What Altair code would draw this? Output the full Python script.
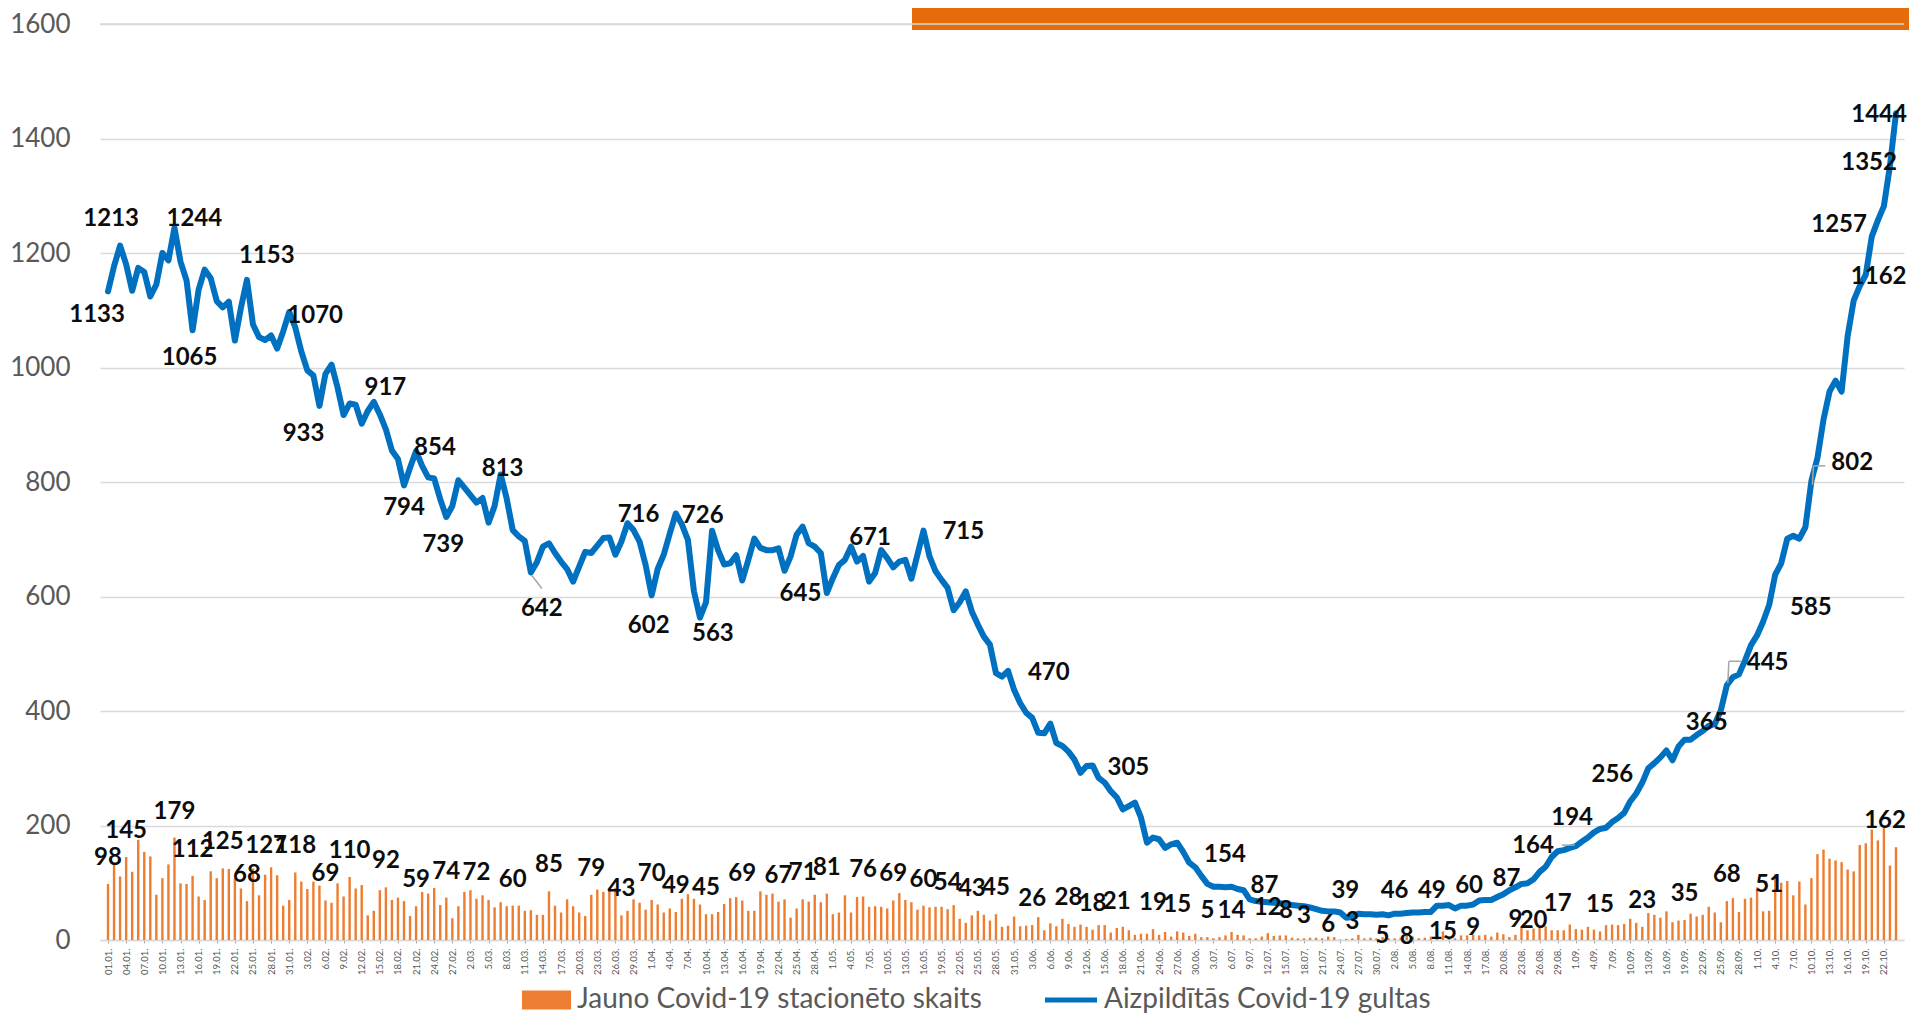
import datetime as dt
import altair as alt
import pandas as pd

# ---------------- data ----------------
new_cases = [
    98, 131, 111, 145, 119, 175, 154, 146, 79, 108, 132, 179, 99, 98, 112, 76, 70, 120, 108, 125,
    124, 108, 90, 68, 125, 78, 114, 127, 113, 60, 70, 118, 102, 89, 102, 95, 69, 65, 99, 76,
    110, 90, 96, 43, 51, 87, 92, 70, 74, 68, 42, 59, 84, 81, 91, 61, 74, 38, 59, 84,
    87, 72, 78, 70, 57, 66, 59, 60, 60, 51, 52, 44, 44, 85, 60, 48, 71, 59, 48, 42,
    79, 88, 84, 91, 91, 43, 51, 71, 65, 53, 70, 62, 48, 55, 49, 72, 80, 72, 62, 45,
    45, 49, 63, 73, 75, 69, 51, 51, 85, 79, 81, 67, 71, 39, 55, 71, 67, 79, 66, 81,
    45, 48, 78, 48, 75, 76, 58, 59, 58, 55, 69, 82, 70, 66, 53, 60, 57, 58, 58, 54,
    61, 37, 30, 43, 51, 44, 34, 45, 23, 25, 41, 24, 25, 26, 40, 17, 29, 24, 37, 28,
    23, 27, 23, 18, 26, 26, 13, 21, 23, 17, 9, 11, 11, 19, 9, 14, 6, 15, 13, 7,
    11, 5, 5, 3, 5, 8, 14, 9, 8, 3, 3, 6, 12, 7, 8, 8, 4, 3, 3, 4,
    4, 3, 6, 5, 1, 2, 3, 9, 3, 4, 3, 5, 3, 3, 4, 8, 6, 3, 4, 6,
    12, 15, 4, 3, 8, 8, 9, 8, 9, 6, 13, 10, 5, 9, 23, 17, 20, 21, 24, 17,
    17, 17, 27, 19, 18, 23, 18, 15, 26, 27, 26, 28, 37, 30, 23, 47, 44, 39, 50, 31,
    34, 35, 46, 41, 44, 58, 48, 31, 68, 73, 49, 72, 74, 92, 50, 51, 115, 100, 103, 78,
    102, 62, 108, 150, 158, 142, 139, 136, 123, 120, 166, 169, 193, 174, 200, 130, 162,
]

occupied_beds = [
    1133, 1177, 1213, 1180, 1134, 1174, 1167, 1124, 1145, 1200, 1187, 1244, 1185, 1152, 1065, 1136, 1171, 1156, 1116, 1105,
    1115, 1047, 1104, 1153, 1075, 1053, 1048, 1056, 1033, 1063, 1097, 1070, 1028, 995, 986, 933, 989, 1005, 965, 917,
    937, 935, 902, 924, 940, 918, 892, 855, 840, 794, 825, 854, 828, 808, 806, 770, 739, 758, 803, 790,
    777, 764, 772, 729, 758, 813, 771, 716, 705, 697, 642, 660, 687, 693, 676, 661, 648, 626, 652, 678,
    676, 689, 702, 703, 673, 696, 728, 716, 696, 655, 602, 648, 673, 710, 745, 726, 699, 609, 563, 590,
    715, 681, 656, 658, 672, 628, 664, 701, 685, 681, 681, 684, 645, 670, 708, 722, 693, 687, 676, 606,
    632, 655, 664, 687, 661, 671, 626, 641, 681, 667, 651, 661, 664, 631, 673, 715, 670, 644, 629, 615,
    576, 590, 609, 574, 551, 530, 516, 466, 460, 470, 437, 414, 397, 388, 362, 361, 378, 344, 339, 329,
    315, 292, 304, 305, 283, 275, 260, 249, 228, 234, 240, 214, 170, 179, 176, 161, 167, 170, 154, 135,
    127, 112, 98, 93, 93, 92, 93, 89, 87, 71, 68, 67, 66, 65, 64, 63, 61, 60, 59, 57,
    54, 51, 50, 50, 48, 39, 40, 46, 45, 45, 44, 45, 43, 46, 46, 47, 48, 48, 49, 49,
    60, 60, 61, 55, 60, 60, 62, 69, 70, 70, 75, 80, 87, 92, 98, 99, 106, 119, 128, 145,
    155, 157, 161, 164, 172, 179, 188, 194, 196, 206, 213, 222, 242, 256, 275, 300, 309, 319, 331, 314,
    338, 350, 350, 358, 365, 374, 377, 401, 445, 459, 464, 488, 515, 532, 556, 585, 638, 658, 701, 706,
    701, 721, 802, 842, 909, 958, 977, 958, 1055, 1117, 1142, 1162, 1229, 1257, 1282, 1352, 1444,
]

series_names = ["Jauno Covid-19 stacionēto skaits", "Aizpildītās Covid-19 gultas"]
y_ticks = [0, 200, 400, 600, 800, 1000, 1200, 1400, 1600]

# days labelled in the picture (bars / line)
bar_label_idx = [0, 3, 11, 14, 19, 23, 27, 31, 36, 40, 46, 51, 56, 61, 67, 73, 80, 85, 90, 94,
                 99, 105, 111, 115, 119, 125, 130, 135, 139, 143, 147, 153, 159, 163, 167, 173, 177, 182, 186, 192,
                 195, 198, 202, 206, 211, 215, 221, 226, 233, 236, 240, 247, 254, 261, 268, 275, 296]
line_label_idx = [0, 2, 11, 14, 23, 31, 35, 39, 49, 51, 56, 65, 70, 87, 90, 95, 98, 112, 125, 135,
                  149, 163, 178, 188, 205, 213, 219, 225, 232, 243, 247, 253, 264, 268, 275, 282, 291, 293, 295, 296]

# ---------------- layout: pixel offsets of labels from their point ----------------
bar_dx = {27: -5, 296: -11}
bar_dy = {27: -21, 186: -21, 192: -25, 195: -24, 198: -22, 202: -12, 206: -16, 211: -1, 215: 2,
          221: 1, 226: -7, 233: -15, 236: -8}
line_dx = [-11, -9, 20, -3, 20, 20, -16, 42, 0, 19, -3, 2, 11, 5, -3, 21, 13, 16, 7, 40,
           41, 36, 42, 21, -1, 0, 1, 2, -3, -43, -28, -24, 4, 41, 42, 41, 13, -39, -21, -17]
line_dy = [24, -27, -9, 28, -24, -11, 28, -27, 23, -3, 28, -6, 37, -15, 31, -8, 16, 23, -18, 1,
           2, 3, 3, -4, -27, -23, -21, -20, -11, 0, -11, -18, -8, -22, 3, -18, 2, 5, -3, 2]

FONT = "Lato"
ORANGE = "#ED7D31"
BLUE = "#0070C0"
GRID = "#d9d9d9"
W, H = 1804, 916
PAD_TOP = 16
Y_MAX = 1600

# ---------------- tables ----------------
n = len(new_cases)
PX_PER_DAY = W / n
PX_PER_UNIT = H / Y_MAX

start = dt.date(2021, 1, 1)
dates = []
for k in range(n):
    d = start + dt.timedelta(days=k)
    dates.append(f"{d.day:02d}.{d.month:02d}." if d.month == 1 else f"{d.day}.{d.month:02d}.")

tick_idx = list(range(0, n, 3))
tick_labels = [dates[i] for i in tick_idx]
label_expr = "[" + ",".join(f"'{s}'" for s in tick_labels) + "][round(datum.value / 3)]"

df = pd.DataFrame({"idx": list(range(n)), "date": dates, "new": new_cases, "beds": occupied_beds})

bar_lab = df[df["idx"].isin(bar_label_idx)].copy()
bar_lab["lx"] = [i + bar_dx.get(i, 0) / PX_PER_DAY for i in bar_lab["idx"]]
bar_lab["ly"] = [v - bar_dy.get(i, -26) / PX_PER_UNIT for i, v in zip(bar_lab["idx"], bar_lab["new"])]

line_lab = df.set_index("idx").loc[line_label_idx].reset_index()
line_lab["lx"] = [i + d / PX_PER_DAY for i, d in zip(line_lab["idx"], line_dx)]
line_lab["ly"] = [v - d / PX_PER_UNIT for v, d in zip(line_lab["beds"], line_dy)]

x_scale = alt.Scale(domain=[-0.5, n - 0.5], nice=False, zero=False)
y_scale = alt.Scale(domain=[0, Y_MAX], nice=False)

x_axis = alt.Axis(values=tick_idx, labelExpr=label_expr, labelAngle=270, labelFontSize=9.5,
                  labelFont=FONT, labelColor="#595959", labelOverlap=False, labelFlush=False,
                  labelBound=False, labelPadding=5, tickSize=3, tickColor="#a6a6a6",
                  domainColor=GRID, domainWidth=1.3, grid=False, title=None)
y_axis = alt.Axis(values=y_ticks, format="d", labelFontSize=26, labelFont=FONT, labelColor="#595959",
                  labelPadding=30, tickSize=0, ticks=False, domain=False, grid=True,
                  gridColor=GRID, gridWidth=1.3, title=None)


def X(field):
    return alt.X(field, scale=x_scale, axis=x_axis, title=None)


def Y(field):
    return alt.Y(field, scale=y_scale, axis=y_axis, title=None)


bars = alt.Chart(df).mark_bar(color=ORANGE, size=2.4).encode(
    x=X("idx:Q"), y=Y("new:Q"),
)

line = alt.Chart(df).mark_line(color=BLUE, strokeWidth=6, strokeJoin="round", strokeCap="round").encode(
    x=X("idx:Q"), y=Y("beds:Q"),
)

text_style = dict(font=FONT, fontSize=24, fontWeight="bold", color="#0d0d0d",
                  align="center", baseline="middle")

bar_text = alt.Chart(bar_lab).mark_text(**text_style).encode(
    x=X("lx:Q"), y=Y("ly:Q"), text=alt.Text("new:Q"),
)
line_text = alt.Chart(line_lab).mark_text(**text_style).encode(
    x=X("lx:Q"), y=Y("ly:Q"), text=alt.Text("beds:Q"),
)

# grey leader lines for a few labels
leader_specs = [
    (70, dict(xOffset=1, x2Offset=11, yOffset=3, y2Offset=16)),
    (243, dict(xOffset=-14, x2Offset=-1, yOffset=-1, y2Offset=-1)),
    (268, dict(xOffset=1, x2Offset=2, yOffset=-2, y2Offset=-24)),
    (268, dict(xOffset=2, x2Offset=14, yOffset=-24, y2Offset=-24)),
    (282, dict(xOffset=1, x2Offset=2, yOffset=4, y2Offset=-15)),
    (282, dict(xOffset=2, x2Offset=14, yOffset=-15, y2Offset=-15)),
]
leaders = []
for i, offs in leader_specs:
    leaders.append(
        alt.Chart(df[df["idx"] == i]).mark_rule(color="#a6a6a6", strokeWidth=1.5, **offs).encode(
            x=X("idx:Q"), x2="idx:Q", y=Y("beds:Q"), y2="beds:Q",
        )
    )

one = pd.DataFrame({"k": [0]})

# orange banner at the top right (title strip, cut off in the picture)
banner = alt.Chart(one).mark_rect(color="#E46C0A").encode(
    x=alt.value(812), x2=alt.value(1820), y=alt.value(-PAD_TOP), y2=alt.value(6)
)
top_grid = alt.Chart(one).mark_rule(color=GRID, strokeWidth=1.5).encode(
    x=alt.value(0), x2=alt.value(W), y=alt.value(0)
)

# legend
LEG_Y = 976
leg_rect = alt.Chart(one).mark_rect(color=ORANGE).encode(
    x=alt.value(422), x2=alt.value(471), y=alt.value(LEG_Y - 9.5), y2=alt.value(LEG_Y + 9.5)
)
leg_line = alt.Chart(one).mark_rule(color=BLUE, strokeWidth=5).encode(
    x=alt.value(945), x2=alt.value(997), y=alt.value(LEG_Y)
)
leg_style = dict(font=FONT, fontSize=28, color="#595959", align="left", baseline="middle")
leg_t1 = alt.Chart(one).mark_text(**leg_style).encode(
    x=alt.value(477), y=alt.value(LEG_Y), text=alt.value(series_names[0])
)
leg_t2 = alt.Chart(one).mark_text(**leg_style).encode(
    x=alt.value(1004), y=alt.value(LEG_Y), text=alt.value(series_names[1])
)

chart = alt.layer(
    bars, line, *leaders, bar_text, line_text, banner, top_grid,
    leg_rect, leg_line, leg_t1, leg_t2,
).properties(
    width=W, height=H,
    autosize=alt.AutoSizeParams(type="none"),
    padding={"left": 92, "top": PAD_TOP, "right": 5, "bottom": 76},
    background="white",
).configure_view(stroke=None)

chart.save("out.html", embed_options={"renderer": "svg", "actions": False})
